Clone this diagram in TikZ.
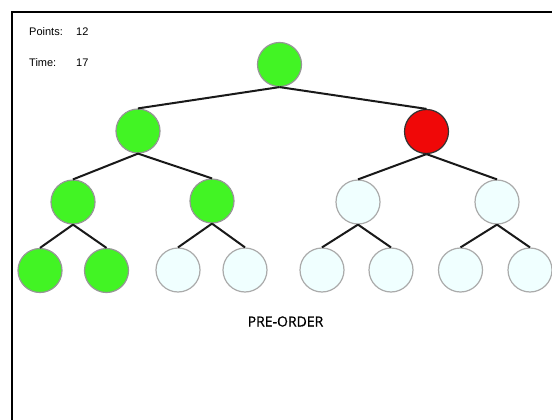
\documentclass[tikz,border=0pt]{standalone}
\usepackage{fontspec}
\setmainfont{Liberation Sans}
\newfontfamily\labelfont[FakeBold=0.6]{Open Sans}
\definecolor{nodegreen}{RGB}{66,244,36}
\definecolor{nodered}{RGB}{240,8,8}
\definecolor{nodelight}{RGB}{240,255,255}
\definecolor{rimgrey}{RGB}{150,150,150}
\begin{document}
\begin{tikzpicture}[x=1pt,y=-1pt,
  tnode/.style={circle,minimum size=44pt,inner sep=0pt,line width=1.2pt},
  visited/.style={tnode,fill=nodegreen,draw=rimgrey},
  current/.style={tnode,fill=nodered,draw=black!80},
  pending/.style={tnode,fill=nodelight,draw=rimgrey!80},
  edge/.style={draw=black!90,line width=2pt},
  info/.style={inner sep=0pt,anchor=west,font=\fontsize{11}{13}\selectfont}]
\useasboundingbox (0,0) rectangle (552,420);
\fill[white] (0,0) rectangle (552,420);
\draw[line width=2pt,black] (11.5,420) -- (11.5,12) -- (552,12);
% nodes
\node[visited] (r) at (279.5,64.5) {};
\node[visited] (a) at (138,131) {};
\node[current] (b) at (426.5,131.5) {};
\node[visited] (aa) at (73,202) {};
\node[visited] (ab) at (212,201) {};
\node[pending] (ba) at (358,202) {};
\node[pending] (bb) at (497,202) {};
\node[visited] (aaa) at (40,270.5) {};
\node[visited] (aab) at (106.5,270.5) {};
\node[pending] (aba) at (178,270) {};
\node[pending] (abb) at (245,270) {};
\node[pending] (baa) at (322,270) {};
\node[pending] (bab) at (391,270) {};
\node[pending] (bba) at (460.5,270) {};
\node[pending] (bbb) at (530,270) {};
% edges
\foreach \p/\c in {r/a,r/b,a/aa,a/ab,b/ba,b/bb,aa/aaa,aa/aab,ab/aba,ab/abb,ba/baa,ba/bab,bb/bba,bb/bbb}
  \draw[edge] (\p.south) -- (\c.north);
% texts
\node[info] (pl) at (29,32) {Points:};
\node[info] (pv) at (76,32) {12};
\node[info] (tl) at (29,63) {Time:};
\node[info] (tv) at (76,63) {17};
\node[inner sep=0pt,font=\labelfont\fontsize{14}{16}\selectfont] (mode) at (285.5,321.5) {PRE-ORDER};
\end{tikzpicture}
\end{document}
